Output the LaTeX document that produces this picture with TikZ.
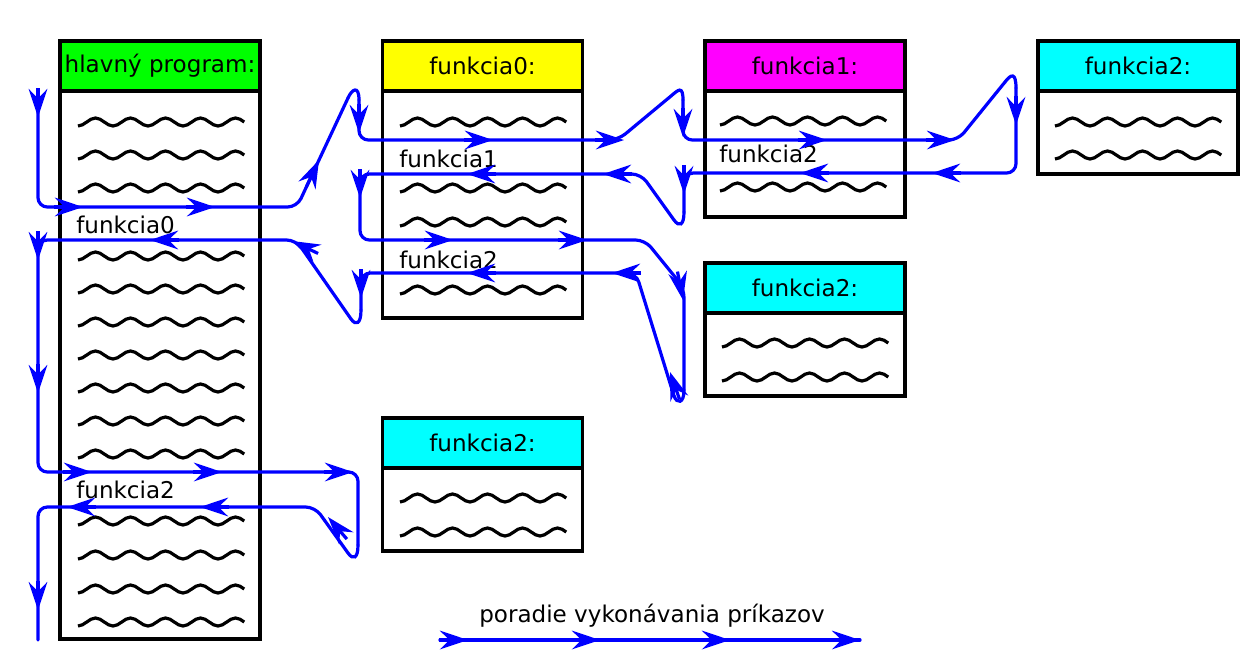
\documentclass[tikz,border=0pt]{standalone}
\usepackage{fontspec}
\setmainfont{DejaVu Sans}
\usetikzlibrary{arrows.meta,positioning}

\definecolor{hgreen}{RGB}{0,255,0}
\definecolor{hyellow}{RGB}{255,255,0}
\definecolor{hmagenta}{RGB}{255,0,255}
\definecolor{hcyan}{RGB}{0,255,255}
\definecolor{hblue}{RGB}{0,0,255}

% one line of "code" inside a box
\newcommand{\wavy}[2]{%
  \draw[waveline] (#1,#2+4) \foreach \i in {1,...,4}{cos ++(8.75,-4) sin ++(8.75,-4) cos ++(8.75,4) sin ++(8.75,4)} cos ++(8.75,-4) sin ++(8.75,-4) cos ++(8.75,4);}

\begin{document}
\begin{tikzpicture}[x=0.75pt, y=-0.75pt,
    txt/.style={font=\fontsize{17.3}{20}\selectfont},
    head/.style={txt, draw, line width=2.6pt, outer sep=0pt, inner sep=1pt, minimum width=150pt, minimum height=37.5pt},
    body/.style={draw, line width=2.6pt, outer sep=0pt, minimum width=150pt, below=0pt of #1},
    tag/.style={txt, anchor=west, inner sep=0pt},
    waveline/.style={line width=2.4pt},
    flowline/.style={draw=hblue, line width=2.4pt, line cap=round, rounded corners=7pt},
    flowtip/.style={draw=hblue, fill=hblue, line width=2.4pt, -{Stealth[length=21pt, width=14pt, inset=7pt]}}]
    \useasboundingbox (0,0) rectangle (1260,669);

    % Main program
    \node[head, fill=hgreen] (mainhead) at (160,66) {hlavný program:};
    \node[body=mainhead, minimum height=411pt] (mainbody) {};
    \foreach \y in {122,155,188,256,289,322,355,388,421,454,521,555,589,622}
        \wavy{78}{\y};
    \node[tag] (call0) at (76,225) {funkcia0};
    \node[tag] (call2) at (76,490) {funkcia2};

    % funkcia0
    \node[head, fill=hyellow] (f0head) at (482.5,66) {funkcia0:};
    \node[body=f0head, minimum height=170.25pt] (f0body) {};
    \foreach \y in {122,188,222,290}
        \wavy{400}{\y};
    \node[tag] (call1) at (399,159) {funkcia1};
    \node[tag] (call2a) at (399,260) {funkcia2};

    % funkcia1
    \node[head, fill=hmagenta] (f1head) at (805,66) {funkcia1:};
    \node[body=f1head, minimum height=94.5pt] (f1body) {};
    \foreach \y in {121,187}
        \wavy{720}{\y};
    \node[tag] (call2b) at (719,154) {funkcia2};

    % funkcia2 (three copies)
    \node[head, fill=hcyan] (f2head) at (1138,66) {funkcia2:};
    \node[body=f2head, minimum height=62.25pt] (f2body) {};
    \wavy{1055}{122}
    \wavy{1055}{155}

    \node[head, fill=hcyan] (f2bhead) at (805,288) {funkcia2:};
    \node[body=f2bhead, minimum height=62.25pt] (f2bbody) {};
    \wavy{722}{343}
    \wavy{722}{377}

    \node[head, fill=hcyan] (f2chead) at (482.5,443) {funkcia2:};
    \node[body=f2chead, minimum height=62.25pt] (f2cbody) {};
    \wavy{400}{498}
    \wavy{400}{532}

    % order of execution: straight runs, then the hairpin turns
    \draw[flowline] (38,92) -- (38,207) -- (297,207) -- (348,98);
    \draw[flowline] (359,100) -- (359,140) -- (618,140) -- (671,96);
    \draw[flowline] (683,100) -- (683,140) -- (958,140) -- (1005,82);
    \draw[flowline] (1016,88) -- (1016,173) -- (684,173) -- (684,212);
    \draw[flowline] (674,220) -- (641,174) -- (360,174) -- (360,240) -- (645,240) -- (684,288) -- (684,390);
    \draw[flowline] (674,396) -- (636,273) -- (361,273) -- (361,310);
    \draw[flowline] (351,319) -- (296,240) -- (38,240) -- (38,472) -- (358,472) -- (358,545);
    \draw[flowline] (348,553) -- (315,507) -- (38,507) -- (38,640);

    \draw[flowline] (348,98) .. controls (352,89) and (359,85) .. (359,100);
    \draw[flowline] (671,96) .. controls (678,90) and (683,85) .. (683,100);
    \draw[flowline] (1005,82) .. controls (1011,74) and (1016,72) .. (1016,88);
    \draw[flowline] (684,212) .. controls (684,226) and (679,227) .. (674,220);
    \draw[flowline] (684,390) .. controls (684,404) and (677,404) .. (674,396);
    \draw[flowline] (361,310) .. controls (361,324) and (356,326) .. (351,319);
    \draw[flowline] (358,545) .. controls (358,559) and (353,560) .. (348,553);

    \foreach \xb/\yb/\dx/\dy in {38/117/0/1, 83/207/1/0, 215/207/1/0,
        319/160/0.426/-0.905, 359/133/0/1, 493/140/1/0, 624/140/1/0,
        683/137/0/1, 827/140/1/0, 955/140/1/0, 1016/125/0/1,
        932/173/-1/0, 800/173/-1/0, 684/194/0/1, 603/174/-1/0,
        467/174/-1/0, 360/198/0/1, 453/240/1/0, 587/240/1/0,
        683/300/0.19/0.98, 670/372/-0.33/-0.944, 612/273/-1/0, 467/273/-1/0,
        361/298/0/1, 292/241/-0.9/-0.43, 150/240/-1/0, 38/260/0/1,
        38/393/0/1, 92/472/1/0, 222/472/1/0, 353/472/1/0,
        328/517/-0.65/-0.76, 200/507/-1/0, 67/507/-1/0, 38/610/0/1}
        \draw[flowtip] (\xb-29*\dx,\yb-29*\dy) -- (\xb,\yb);

    % legend
    \node[txt] (legend) at (652,616) {poradie vykonávania príkazov};
    \coordinate (legstart) at (440,640);
    \coordinate (legend end) at (860,640);
    \draw[flowline] (legstart) -- (legend end);
    \foreach \x in {468,600,730,860}
        \draw[flowtip] (\x-29,640) -- (\x,640);
\end{tikzpicture}
\end{document}
